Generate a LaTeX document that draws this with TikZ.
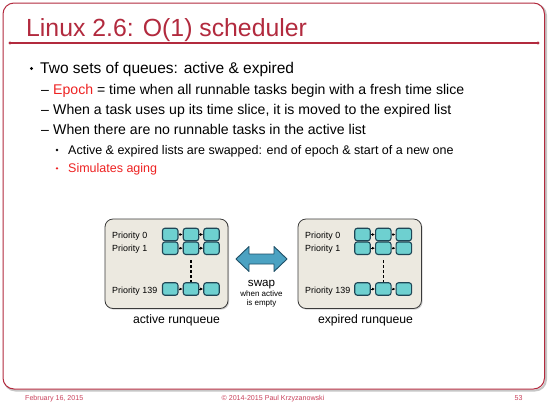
\documentclass[tikz,border=0pt]{standalone}
\usepackage{fontspec}
\setmainfont{Liberation Sans}
\usetikzlibrary{arrows.meta,shadows}
\definecolor{framered}{HTML}{B22A3E}
\definecolor{hotred}{HTML}{EE2222}
\definecolor{footred}{HTML}{C8405A}
\definecolor{qfill}{HTML}{ECE9E0}
\definecolor{qborder}{HTML}{3A3A3A}
\definecolor{sqfill}{HTML}{6ED0D0}
\definecolor{sqborder}{HTML}{1E4656}
\definecolor{swapfill}{HTML}{4BA2C2}
\definecolor{swapborder}{HTML}{1F4F66}
\newcommand{\fs}[1]{\fontsize{#1}{#1}\selectfont}
\begin{document}
\begin{tikzpicture}[x=1pt,y=-1pt,
  txt/.style={inner sep=0pt,anchor=base west},
  dot/.style={circle,inner sep=0pt,minimum size=#1},
  qbox/.style={draw=qborder,line width=0.8pt,fill=qfill,rounded corners=8pt,
     drop shadow={shadow xshift=1.2pt,shadow yshift=-1.2pt,opacity=0.35}},
  sq/.style={draw=sqborder,line width=1.1pt,fill=sqfill,rounded corners=2.5pt,
     minimum width=15.5pt,minimum height=12.5pt,inner sep=0pt},
  link/.style={-{Latex[length=3pt,width=3pt]},line width=0.6pt,black},
  plabel/.style={inner sep=0pt,anchor=base west,font=\fs{8.9}},
  qname/.style={inner sep=0pt,anchor=base,font=\fs{12.2}},
  foot/.style={inner sep=0pt,anchor=base,font=\fs{7.1},text=footred}]
\useasboundingbox (0,0) rectangle (548,405);
% frame
\draw[gray!45,line width=2pt,rounded corners=11pt] (4.5,4.5) rectangle (546,390.5);
\draw[framered,line width=1pt,fill=white,rounded corners=11pt] (3,3) rectangle (544.5,389);
\node[txt,font=\fs{24.8},text=framered] (title) at (26,36) {Linux 2.6: O(1) scheduler};
\coordinate (tl) at (10,43);
\coordinate (tr) at (538,43);
\draw[framered,line width=1.2pt] (tl) -- (tr);
\fill[framered] (tl) circle (1.6pt) (tr) circle (1.6pt);
% bullets
\node[dot=3.2pt,fill=black] (b1d) at (31.5,68.5) {};
\node[txt,font=\fs{15.5}] (b1) at (40,73.5) {Two sets of queues: active \& expired};
\node[txt,font=\fs{14.1}] (b2d) at (41,94.3) {–};
\node[txt,font=\fs{14.1}] (b2) at (53,94.3) {\textcolor{hotred}{Epoch} = time when all runnable tasks begin with a fresh time slice};
\node[txt,font=\fs{14.1}] (b3d) at (41,114.3) {–};
\node[txt,font=\fs{14.1}] (b3) at (53,114.3) {When a task uses up its time slice, it is moved to the expired list};
\node[txt,font=\fs{14.1}] (b4d) at (41,134.3) {–};
\node[txt,font=\fs{14.1}] (b4) at (53,134.3) {When there are no runnable tasks in the active list};
\node[dot=2.6pt,fill=black] (b5d) at (57,150) {};
\node[txt,font=\fs{12.5}] (b5) at (68,154) {Active \& expired lists are swapped: end of epoch \& start of a new one};
\node[dot=2.6pt,fill=hotred] (b6d) at (57,168.3) {};
\node[txt,font=\fs{12.5},text=hotred] (b6) at (68,172.3) {Simulates aging};
% active runqueue
\draw[qbox] (105,219) rectangle (228,308.5);
\node[plabel] (ap0) at (112,238.5) {Priority 0};
\node[plabel] (ap1) at (112,251.8) {Priority 1};
\node[plabel] (ap2) at (112,293) {Priority 139};
\foreach \r/\y in {0/234.5,1/248.2,2/289}{
  \node[sq] (a\r c1) at (170.2,\y) {};
  \node[sq] (a\r c2) at (191,\y) {};
  \node[sq] (a\r c3) at (211.5,\y) {};
  \draw[link] (a\r c1.east) -- (a\r c2.west);
  \draw[link] (a\r c2.east) -- (a\r c3.west);
}
\draw[line width=1.6pt,dash pattern=on 3pt off 2pt] (a1c2.south) ++(0,5) -- (a2c2.north) ++(0,-5);
\node[qname] (aname) at (176.5,323.3) {active runqueue};
% expired runqueue
\draw[qbox] (298,219) rectangle (421.5,308.5);
\node[plabel] (ep0) at (305,238.5) {Priority 0};
\node[plabel] (ep1) at (305,251.8) {Priority 1};
\node[plabel] (ep2) at (305,293) {Priority 139};
\foreach \r/\y in {0/234.5,1/248.2,2/289}{
  \node[sq] (e\r c1) at (362.5,\y) {};
  \node[sq] (e\r c2) at (383.3,\y) {};
  \node[sq] (e\r c3) at (403.8,\y) {};
  \draw[link] (e\r c1.east) -- (e\r c2.west);
  \draw[link] (e\r c2.east) -- (e\r c3.west);
}
\draw[line width=1.6pt,dash pattern=on 3pt off 2pt] (e1c2.south) ++(0,5) -- (e2c2.north) ++(0,-5);
\node[qname] (ename) at (365.5,323.3) {expired runqueue};
% swap arrow
\draw[swapborder,line width=0.9pt,fill=swapfill,line join=round]
  (236,259) -- (249,246.5) -- (249,254) -- (274,254) -- (274,246.5) -- (287,259)
  -- (274,271.5) -- (274,264) -- (249,264) -- (249,271.5) -- cycle;
\node[inner sep=0pt,anchor=base,font=\fs{11.6}] (swap) at (261.5,286.7) {swap};
\node[inner sep=0pt,anchor=base,font=\fs{8}] (sw1) at (261.5,296.7) {when active};
\node[inner sep=0pt,anchor=base,font=\fs{8}] (sw2) at (261.5,305.2) {is empty};
% footer
\node[foot,anchor=base west] (f1) at (25,400) {February 16, 2015};
\node[foot] (f2) at (273,400) {© 2014-2015 Paul Krzyzanowski};
\node[foot] (f3) at (518.5,400) {53};
\end{tikzpicture}
\end{document}
